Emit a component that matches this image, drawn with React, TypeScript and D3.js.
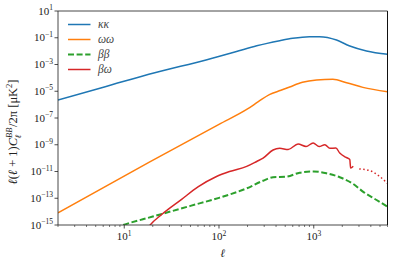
import * as d3 from "d3";

// multipoles (ell) and log10 of ell(ell+1)C_ell/2pi
const ellKK = [2, 6.3, 21, 73, 150, 250, 437, 600, 900, 1150, 1740, 2400, 3600, 6000];
const logKK = [-5.65, -4.66, -3.61, -2.66, -2.05, -1.6, -1.22, -1.04, -0.92, -0.92, -1.17, -1.62, -1.99, -2.24];

const ellWW = [2, 18.4, 100, 200, 260, 340, 450, 557, 760, 1070, 1590, 2220, 3300, 6000];
const logWW = [-14.1, -10.3, -7.47, -6.32, -5.78, -5.25, -4.93, -4.68, -4.33, -4.16, -4.11, -4.36, -4.71, -5.03];

const ellBB = [8, 9.7, 20, 50, 100, 129, 196, 292, 372, 513, 710, 1000, 1360, 1880, 2610, 3300, 4600, 6000];
const logBB = [-15.2, -15.0, -14.37, -13.57, -12.97, -12.72, -12.26, -11.69, -11.43, -11.39, -11.09, -11.0, -11.13, -11.43, -11.93, -12.5, -13.13, -13.63];

const ellBW = [16, 18.4, 25, 40, 60, 93, 129, 196, 250, 292, 372, 437, 537, 683, 830, 985, 1140, 1310, 1480, 1710, 1880, 2130, 2310, 2400, 2450, 2610];
const logBW = [-15.7, -15.07, -14.2, -13.1, -12.15, -11.39, -11.0, -10.62, -10.25, -10.0, -9.39, -9.27, -9.35, -8.95, -9.13, -8.87, -9.14, -9.0, -9.27, -9.24, -9.62, -9.9, -10.02, -10.12, -10.74, -10.6];

const ellBWdot = [3020, 3920, 5000, 6000];
const logBWdot = [-10.81, -10.94, -11.39, -11.9];

const legendLabels = ["κκ", "ωω", "ββ", "βω"];
const yTickExps = [1, -1, -3, -5, -7, -9, -11, -13, -15];
const xTickExps = [1, 2, 3];

const W = 398;
const H = 267;
const left = 58, right = 387.5, top = 11, bottom = 225;
const serif = "'DejaVu Serif', 'Liberation Serif', serif";
const numFont = "'Liberation Serif', serif";

const zip = (a: number[], b: number[]): [number, number][] => a.map((v, i) => [v, Math.pow(10, b[i])]);

export default function App() {
  const x = d3.scaleLog().domain([2, 6000]).range([left, right]);
  const y = d3.scaleLog().domain([1e-15, 1e1]).range([bottom, top]);

  const line = d3
    .line<[number, number]>()
    .x((d) => x(d[0]))
    .y((d) => y(d[1]))
    .curve(d3.curveMonotoneX);

  const series = [
    { data: zip(ellKK, logKK), color: "#1f77b4", width: 1.5, dash: undefined as string | undefined },
    { data: zip(ellWW, logWW), color: "#ff7f0e", width: 1.5, dash: undefined },
    { data: zip(ellBB, logBB), color: "#2ca02c", width: 2, dash: "6,2.6" },
    { data: zip(ellBW, logBW), color: "#d62728", width: 1.5, dash: undefined },
    { data: zip(ellBWdot, logBWdot), color: "#d62728", width: 1.5, dash: "1.5,2.5" },
  ];

  const minorX: number[] = [];
  for (let e = 0; e <= 3; e++) {
    for (let m = 2; m <= 9; m++) {
      const v = m * Math.pow(10, e);
      if (v >= 2 && v <= 6000) minorX.push(v);
    }
  }

  const legendColors = ["#1f77b4", "#ff7f0e", "#2ca02c", "#d62728"];

  return (
    <svg width={W} height={H} style={{ position: "absolute", left: 0, top: 0 }}>
      <rect width={W} height={H} fill="#fff" />
      <defs>
        <clipPath id="plot">
          <rect x={left} y={top} width={right - left} height={bottom - top} />
        </clipPath>
      </defs>

      <g clipPath="url(#plot)">
        {series.map((s, i) => (
          <path
            key={i}
            d={line(s.data) || ""}
            fill="none"
            stroke={s.color}
            strokeWidth={s.width}
            strokeDasharray={s.dash}
          />
        ))}
      </g>

      {/* spines */}
      <line x1={left} x2={right} y1={top} y2={top} stroke="#333" strokeWidth={0.9} />
      <line x1={left} x2={left} y1={top} y2={bottom} stroke="#333" strokeWidth={0.9} />
      <line x1={left} x2={right} y1={bottom} y2={bottom} stroke="#333" strokeWidth={0.9} />
      <line x1={right} x2={right} y1={top} y2={bottom} stroke="#111" strokeWidth={1} />

      {/* x ticks */}
      {minorX.map((v) => (
        <line key={"mx" + v} x1={x(v)} x2={x(v)} y1={bottom} y2={bottom + 2} stroke="#222" strokeWidth={0.6} />
      ))}
      {xTickExps.map((e) => (
        <g key={"x" + e} transform={`translate(${x(Math.pow(10, e))},0)`}>
          <line y1={bottom} y2={bottom + 3.5} stroke="#222" strokeWidth={0.8} />
          <text y={240} textAnchor="middle" fontFamily={numFont} fontSize={11} fill="#222">
            10<tspan dy={-4.5} fontSize={7.5}>{e}</tspan>
          </text>
        </g>
      ))}

      {/* y ticks */}
      {yTickExps.map((e) => (
        <g key={"y" + e} transform={`translate(0,${y(Math.pow(10, e))})`}>
          <line x1={left} x2={left - 3.5} stroke="#222" strokeWidth={0.8} />
          <text x={left - 5} y={3.5} textAnchor="end" fontFamily={numFont} fontSize={11} fill="#222">
            10<tspan dy={-4.5} fontSize={7.5}>{e < 0 ? "−" + -e : String(e)}</tspan>
          </text>
        </g>
      ))}

      {/* axis labels */}
      <text x={(left + right) / 2} y={257} textAnchor="middle" fontFamily={serif} fontSize={11.5} fontStyle="italic" fill="#222">
        ℓ
      </text>
      <text transform="translate(17,132) rotate(-90)" textAnchor="middle" fontFamily={numFont} fontSize={12.5} fill="#222">
        <tspan fontStyle="italic">ℓ</tspan>
        <tspan>(</tspan>
        <tspan fontStyle="italic">ℓ</tspan>
        <tspan> + 1)</tspan>
        <tspan fontStyle="italic">C</tspan>
        <tspan dy={-5} fontSize={8.5} fontStyle="italic">BB</tspan>
        <tspan dx={-11} dy={8.5} fontSize={8.5} fontStyle="italic">ℓ</tspan>
        <tspan dx={8} dy={-3.5}>/2π [μK</tspan>
        <tspan dy={-5} fontSize={8.5}>2</tspan>
        <tspan dy={5}>]</tspan>
      </text>

      {/* legend */}
      {legendLabels.map((lab, i) => {
        const ly = 24.5 + i * 15;
        return (
          <g key={lab}>
            <line
              x1={68}
              x2={90.5}
              y1={ly}
              y2={ly}
              stroke={legendColors[i]}
              strokeWidth={i === 2 ? 2 : 1.5}
              strokeDasharray={i === 2 ? "6,2.6" : undefined}
            />
            <text x={98} y={ly + 3.5} fontFamily={numFont} fontSize={11.5} fontStyle="italic" fill="#444">
              {lab}
            </text>
          </g>
        );
      })}
    </svg>
  );
}
